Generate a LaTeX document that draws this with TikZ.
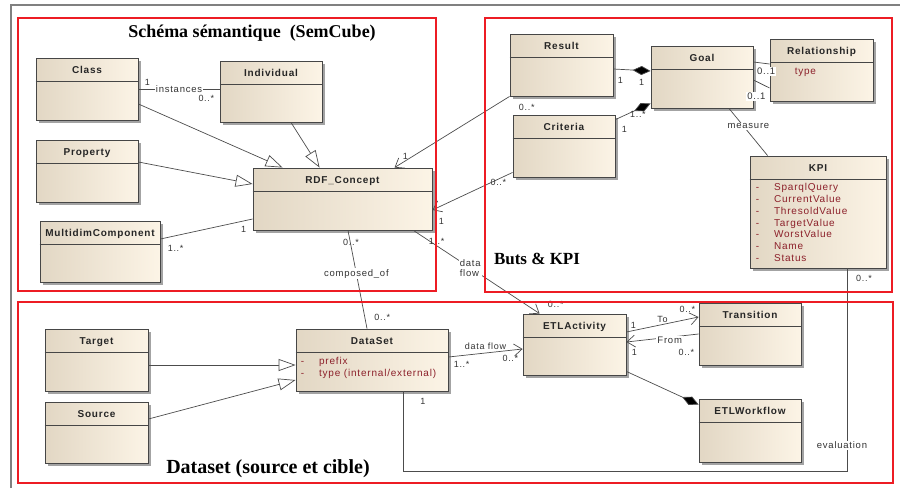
\documentclass[tikz,border=0pt]{standalone}
\usepackage{fontspec}
\setmainfont{Liberation Serif}
\setsansfont{Liberation Sans}
\newfontfamily\umlfont[LetterSpace=8]{Liberation Sans}
\usepackage{tikz}
\usetikzlibrary{positioning,arrows.meta,calc,shadows}
\usepackage{xcolor}
\definecolor{clsleft}{RGB}{226,215,196}
\definecolor{clsright}{RGB}{252,244,230}
\definecolor{clsline}{RGB}{70,70,70}
\definecolor{attrred}{RGB}{140,32,42}
\definecolor{framered}{RGB}{237,28,36}

\begin{document}
\begin{tikzpicture}[
  x=1pt, y=-1pt,
  font=\umlfont\fontsize{9.5}{11}\selectfont,
  cls/.style 2 args={draw=clsline, line width=0.9pt, left color=clsleft, right color=clsright,
    drop shadow={shadow xshift=2.5pt, shadow yshift=-2.5pt, fill=black!60, opacity=0.6},
    inner sep=0pt, minimum width=#1, text height=15.5pt, text depth=#2,
    font=\umlfont\bfseries\fontsize{10}{12}\selectfont, text=black!85},
  attr/.style={anchor=north west, inner sep=0pt, text=attrred, font=\umlfont\fontsize{10}{11.7}\selectfont},
  mult/.style={inner sep=1pt, text=black!80, font=\umlfont\fontsize{9}{10}\selectfont},
  lbl/.style={inner sep=1pt, fill=white, text=black!80, font=\umlfont\fontsize{9.5}{10}\selectfont},
  assoc/.style={draw=black!70, line width=0.7pt},
  gen/.style={assoc, -{Triangle[length=17pt, width=12pt, fill=white]}},
  nav/.style={assoc, -{Straight Barb[length=8pt, width=12pt]}},
  comp/.style={assoc, -{Diamond[length=18pt, width=9pt, fill=black]}},
  frame/.style={draw=framered, line width=1.6pt},
  title/.style={inner sep=0pt, font=\rmfamily\bfseries\fontsize{18}{20}\selectfont}
]
\useasboundingbox (0,0) rectangle (900,488);
\draw[black!50, line width=1.5pt] (11,488) -- (11,5) -- (900,5);

\node[cls={102pt}{46.5pt}] (class)        at (87,89)      {Class};
\node[cls={102pt}{45.5pt}] (individual)   at (271,91.5)   {Individual};
\node[cls={102pt}{46.5pt}] (property)     at (87,171)     {Property};
\node[cls={120pt}{45.5pt}] (multidim)     at (100,251.5)  {MultidimComponent};
\node[cls={179pt}{46.5pt}] (rdf)          at (342.5,199)  {RDF\_Concept};
\node[cls={103pt}{46.5pt}] (result)       at (561.5,65)   {Result};
\node[cls={102pt}{46.5pt}] (goal)         at (702,77)     {Goal};
\node[cls={103pt}{46.5pt}] (relationship) at (821.5,70)   {Relationship};
\node[cls={102pt}{46.5pt}] (criteria)     at (564,146)    {Criteria};
\node[cls={136pt}{96.5pt}] (kpi)          at (818,212)    {KPI};
\node[cls={103pt}{46.5pt}] (target)       at (96.5,360)   {Target};
\node[cls={103pt}{45.5pt}] (source)       at (96.5,432.5) {Source};
\node[cls={152pt}{46.5pt}] (dataset)      at (372,360)    {DataSet};
\node[cls={103pt}{45.5pt}] (etl)          at (574.5,344.5){ETLActivity};
\node[cls={102pt}{46.5pt}] (transition)   at (750,334)    {Transition};
\node[cls={102pt}{47.5pt}] (workflow)     at (750,430.5)  {ETLWorkflow};

\foreach \c in {class,individual,property,multidim,rdf,result,goal,relationship,
                criteria,kpi,target,source,dataset,etl,transition,workflow}
  \draw[clsline, line width=0.9pt] ([yshift=-24pt]\c.north west) -- ([yshift=-24pt]\c.north east);

\node[attr] (relattr) at ([xshift=25pt, yshift=-28pt]relationship.north west)
  {\begin{tabular}{@{}l@{}}type\end{tabular}};
\node[attr] (kpiattr) at ([xshift=6pt, yshift=-27pt]kpi.north west)
  {\begin{tabular}{@{}l@{\hspace{15pt}}l@{}}
   -&SparqlQuery\\ -&CurrentValue\\ -&ThresoldValue\\ -&TargetValue\\
   -&WorstValue\\ -&Name\\ -&Status\end{tabular}};
\node[attr] (dsattr) at ([xshift=5pt, yshift=-28pt]dataset.north west)
  {\begin{tabular}{@{}l@{\hspace{15pt}}l@{}}-&prefix\\ -&type (internal/external)\end{tabular}};

\draw[assoc] (class.east) -- (class.east -| individual.west)
  node[lbl, midway] {instances}
  node[mult, at start, anchor=south west, xshift=5pt, yshift=2pt] {1}
  node[mult, at end, anchor=north east, xshift=-4pt, yshift=-5pt] {0..*};
\draw[gen] ([yshift=-15pt]class.east) -- ([xshift=30pt]rdf.north west);
\draw[gen] ([xshift=20pt]individual.south) -- ([xshift=67pt]rdf.north west);
\draw[gen] ([yshift=9pt]property.east) -- ([yshift=15pt]rdf.west);
\draw[assoc] ([yshift=12.5pt]multidim.east) -- ([yshift=-20pt]rdf.west)
  node[mult, at start, anchor=north west, xshift=6pt, yshift=-5pt] {1..*}
  node[mult, at end, anchor=north east, xshift=-5pt, yshift=-6pt] {1};
\draw[nav] (result.south west) -- ([xshift=142pt]rdf.north west)
  node[mult, at start, anchor=north west, xshift=8pt, yshift=-6pt] {0..*}
  node[mult, at end, anchor=south west, xshift=7pt, yshift=7pt] {1};
\draw[nav] ([yshift=5pt]criteria.south west) -- ([yshift=-11pt]rdf.east)
  node[mult, at start, anchor=north east, xshift=-5pt, yshift=-5pt] {0..*}
  node[mult, at end, anchor=north west, xshift=5pt, yshift=-7pt] {1};
\draw[nav] ([xshift=-19pt]rdf.south east) -- ([xshift=17pt]etl.north west)
  node[mult, at start, anchor=north west, xshift=14pt, yshift=-7pt] {1..*}
  node[lbl, pos=0.45, align=left] {data\\flow}
  node[mult, at end, anchor=south west, xshift=7pt, yshift=5pt] {0..*};
\draw[assoc] ([xshift=5.5pt]rdf.south) -- ([xshift=-5pt]dataset.north)
  node[mult, at start, anchor=north, xshift=3pt, yshift=-7pt] {0..*}
  node[lbl, pos=0.44] {composed\_of}
  node[mult, at end, anchor=south west, xshift=6pt, yshift=7pt] {0..*};

\draw[comp] ([yshift=-4pt]result.east) -- ([yshift=6pt]goal.west)
  node[mult, at start, anchor=north west, xshift=3pt, yshift=-7pt] {1}
  node[mult, at end, anchor=north east, xshift=-5pt, yshift=-7pt] {1};
\draw[comp] ([yshift=-5pt]criteria.north east) -- ([yshift=5pt]goal.south west)
  node[mult, pos=0.64, anchor=north, yshift=-1pt] {1..*}
  node[mult, at start, anchor=north west, xshift=5pt, yshift=-5pt] {1};
\draw[assoc] ([yshift=15pt]goal.east) -- ([yshift=6pt]relationship.west)
  node[lbl, at end, anchor=north east, xshift=7pt, yshift=-3pt] {0..1};
\draw[assoc] ([yshift=-3pt]goal.east) -- ([yshift=-18pt]relationship.west)
  node[lbl, at start, anchor=north, xshift=3pt, yshift=-12pt] {0..1};
\draw[assoc] ([xshift=27pt]goal.south) -- ([xshift=18pt]kpi.north west)
  node[lbl, pos=0.375, xshift=5pt] {measure};
\draw[assoc] ([xshift=29pt]kpi.south) |- ([xshift=31pt, yshift=-80pt]dataset.south)
  -- ([xshift=31pt]dataset.south)
  node[mult, at end, anchor=north west, xshift=16pt, yshift=-6pt] {1};
\node[mult, anchor=north west] (kpimult) at ([xshift=37pt, yshift=-6pt]kpi.south) {0..*};
\node[lbl] (evallbl) at ([xshift=24pt, yshift=-177pt]kpi.south) {evaluation};

\draw[nav] ([yshift=3pt]dataset.east) -- ([yshift=-4.5pt]etl.west)
  node[mult, midway, above=2pt] {data flow}
  node[mult, at start, anchor=north west, xshift=4pt, yshift=-3pt] {1..*}
  node[mult, at end, anchor=north east, xshift=-3pt, yshift=-5pt] {0..*};
\draw[gen] ([yshift=-5pt]target.east) -- ([yshift=-5pt]dataset.west);
\draw[gen] ([yshift=13.5pt]source.east) -- ([yshift=-20pt]dataset.west);
\draw[nav] ([yshift=12.5pt]etl.east) -- ([yshift=17pt]transition.west)
  node[mult, at start, anchor=south west, xshift=3pt, yshift=2pt] {1}
  node[mult, pos=0.5, above=1pt] {To}
  node[mult, at end, anchor=south east, xshift=-2pt, yshift=3pt] {0..*};
\draw[nav] (transition.west) -- ([yshift=2.5pt]etl.east)
  node[lbl, pos=0.4, yshift=-3pt] {From}
  node[mult, at start, anchor=north east, xshift=-3pt, yshift=-14pt] {0..*}
  node[mult, at end, anchor=north west, xshift=4pt, yshift=-6pt] {1};
\draw[comp] ([yshift=4pt]etl.south east) -- ([yshift=-6pt]workflow.north west);

\draw[frame] (18,18) rectangle (436,291);
\draw[frame] (485,18) rectangle (892,292);
\draw[frame] (18,302) rectangle (893,483);

\node[title] (semtitle) at (252,33) {Schéma sémantique\ \ (SemCube)};
\node[title, font=\rmfamily\bfseries\fontsize{17}{20}\selectfont] (kpititle) at (537,259) {Buts \& KPI};
\node[title, font=\rmfamily\bfseries\fontsize{20}{22}\selectfont] (dstitle) at (268,469) {Dataset (source et cible)};
\end{tikzpicture}
\end{document}
